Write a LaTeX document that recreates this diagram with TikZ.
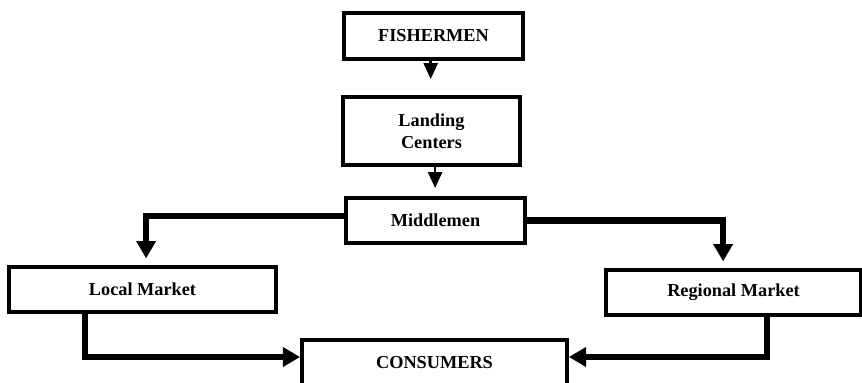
\documentclass[tikz,border=0pt]{standalone}
\usepackage{fontspec}
\setmainfont{Liberation Serif}
\usetikzlibrary{arrows.meta}

\begin{document}
\begin{tikzpicture}[
    x=0.025cm, y=-0.025cm,
    font=\fontsize{13}{15.6}\selectfont\bfseries,
    stage/.style={draw, line width=2.7pt, align=center, inner sep=0pt},
    thinflow/.style={line width=1.8pt, -{Triangle[length=0.4cm, width=0.35cm]}},
    flow/.style={line width=4.5pt, -{Triangle[length=0.43cm, width=0.47cm]}}
]

% Page frame
\useasboundingbox (0,0) rectangle (862,382);

% Chain boxes
\node[stage, minimum width=179*0.025cm, minimum height=46*0.025cm] (fish) at (433.5, 36) {FISHERMEN};
\node[stage, minimum width=177*0.025cm, minimum height=68*0.025cm] (land) at (431.5, 131) {Landing\\Centers};
\node[stage, minimum width=179*0.025cm, minimum height=45*0.025cm] (mid) at (435.5, 220.5) {Middlemen};

% Markets
\node[stage, minimum width=267*0.025cm, minimum height=45*0.025cm] (local) at (142.5, 289.5) {Local Market};
\node[stage, minimum width=255*0.025cm, minimum height=45*0.025cm] (regional) at (733.5, 292.5) {Regional Market};

% End of the chain
\node[stage, minimum width=265*0.025cm, minimum height=46*0.025cm] (cons) at (434.5, 363) {CONSUMERS};

% Arrows down the chain
\draw[thinflow, shorten >=0.4cm] ([xshift=-0.07cm]fish.south) -- ([xshift=-0.07cm]fish.south |- land.north);
\draw[thinflow, shorten >=0.2cm] ([xshift=0.09cm]land.south) -- ([xshift=0.09cm]land.south |- mid.north);

% Middlemen to markets
\draw[flow, shorten >=0.17cm] ([yshift=0.11cm]mid.west) -| ([xshift=0.09cm]local.north);
\draw[flow, shorten >=0.17cm] (mid.east) -| ([xshift=-0.26cm]regional.north);

% Markets to consumers
\draw[flow] ([xshift=-1.44cm]local.south) |- ([yshift=0.15cm]cons.west);
\draw[flow] ([xshift=0.84cm]regional.south) |- ([yshift=0.15cm]cons.east);

\end{tikzpicture}
\end{document}
